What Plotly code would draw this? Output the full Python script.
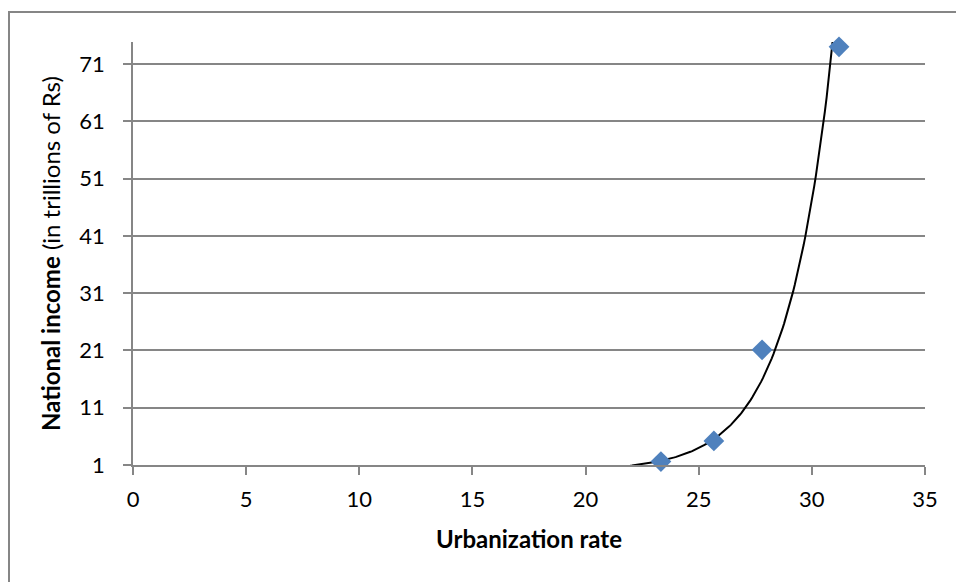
import numpy as np
import plotly.graph_objects as go

# urbanization rate (%) and national income (trillions of Rs)
urban_rate = [23.33, 25.67, 27.8, 31.2]
national_income = [1.6, 5.2, 21.1, 74.0]

x_ticks = [0, 5, 10, 15, 20, 25, 30, 35]
y_ticks = [1, 11, 21, 31, 41, 51, 61, 71]

# exponential trendline like excel: y = a * e^(b x)
b, ln_a = np.polyfit(urban_rate, np.log(national_income), 1)
trend_x = np.linspace(0, max(urban_rate), 400)
trend_y = np.exp(ln_a) * np.exp(b * trend_x)

grid_col = '#868686'
font_main = 'Lato, Calibri, Carlito, sans-serif'

fig = go.Figure()

fig.add_trace(go.Scatter(x=trend_x, y=trend_y, mode='lines',
                         line=dict(color='black', width=2),
                         hoverinfo='skip', showlegend=False))

fig.add_trace(go.Scatter(x=urban_rate, y=national_income, mode='markers',
                         marker=dict(symbol='diamond', size=16, color='#4F81BD'),
                         showlegend=False, cliponaxis=False))

fig.update_xaxes(range=[0, 35], tickvals=x_ticks, ticks='outside', ticklen=8,
                 tickcolor=grid_col, tickwidth=1.5, showline=True,
                 linecolor=grid_col, linewidth=1.5, showgrid=False,
                 zeroline=False, tickfont=dict(size=22, color='black'),
                 ticklabelstandoff=6,
                 title=dict(text='<b>Urbanization rate</b>', standoff=20,
                            font=dict(size=24, color='black')))

fig.update_yaxes(range=[1, 74.84], tickvals=y_ticks, ticks='outside', ticklen=8,
                 tickcolor=grid_col, tickwidth=1.5, showline=True,
                 linecolor=grid_col, linewidth=1.5, showgrid=True,
                 gridcolor=grid_col, gridwidth=1.5, zeroline=False,
                 tickfont=dict(size=22, color='black'), ticklabelstandoff=14,
                 title=dict(text='<b>National income</b> (in trillions of Rs)',
                            standoff=12, font=dict(size=24, color='black')))

# outer chart border (runs past the right and bottom edges)
fig.add_shape(type='rect', xref='paper', yref='paper',
              x0=(9 - 133) / 792, x1=1.5,
              y0=-1.0, y1=(465 - 12) / 423,
              line=dict(color=grid_col, width=2), layer='below')

fig.update_layout(width=956, height=582,
                  margin=dict(l=133, r=31, t=42, b=117),
                  plot_bgcolor='white', paper_bgcolor='white',
                  font=dict(family=font_main, color='black'))

# drop the default page margin so the figure sits at the window corner
fig.write_html("out.html", config={'displayModeBar': False},
               post_script="document.body.style.margin='0';"
                           "document.body.style.overflow='hidden';")
